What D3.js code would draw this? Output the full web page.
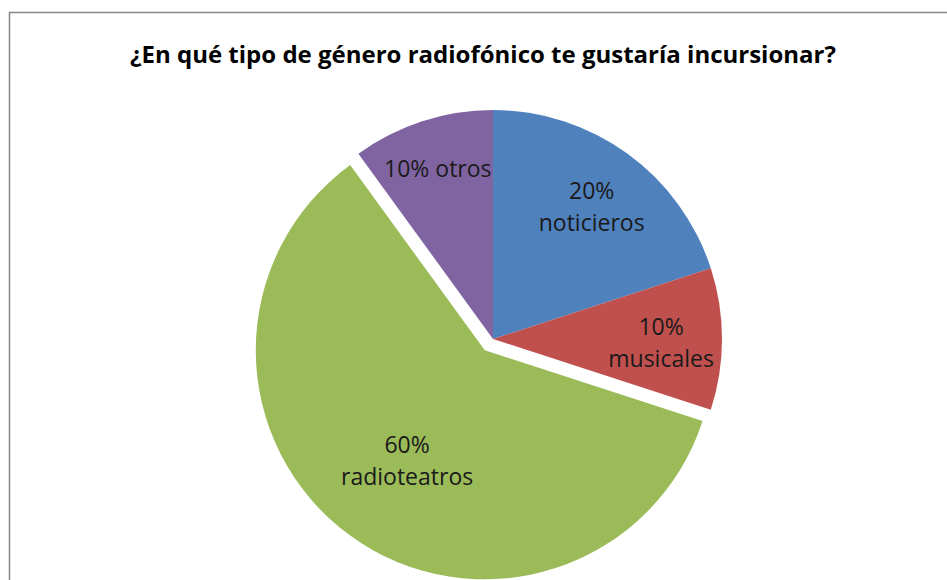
<!DOCTYPE html>
<html>
<head>
<meta charset="utf-8">
<script src="https://cdn.jsdelivr.net/npm/d3@7"></script>
<style>
  body { margin: 0; background: #fff; }
  svg { display: block; }
</style>
</head>
<body>
<script>
// data
var categories = ["noticieros", "musicales", "radioteatros", "otros"]
var values = [20, 10, 60, 10]
var percentLabels = ["20%", "10%", "60%", "10%"]
var colors = ["#4F81BD", "#C0504D", "#9BBB59", "#8064A2"]

var svgWidth = 947
var svgHeight = 580
var cx = 493
var cy = 339
var radius = 229
var explode = 14          // only the big slice is pulled out
var labelFont = "'Open Sans', 'DejaVu Sans', sans-serif"

var svg = d3.select("body").append("svg")
    .attr("width", svgWidth)
    .attr("height", svgHeight)

// chart area frame (right and bottom run off the picture)
svg.append("rect")
    .attr("x", 9.5)
    .attr("y", 12.5)
    .attr("width", 960)
    .attr("height", 600)
    .attr("fill", "white")
    .attr("stroke", "#868686")
    .attr("stroke-width", 1.5)

svg.append("text")
    .attr("x", 483)
    .attr("y", 63)
    .attr("text-anchor", "middle")
    .style("font-family", labelFont)
    .style("font-weight", "bold")
    .style("font-size", "24px")
    .style("fill", "#000")
    .text("¿En qué tipo de género radiofónico te gustaría incursionar?")

var pie = d3.pie().sort(null).value(function(d) { return d })
var arcs = pie(values)
var arc = d3.arc().innerRadius(0).outerRadius(radius)

var pieGroup = svg.append("g")
    .attr("transform", "translate(" + cx + "," + cy + ")")

function offset(d, i) {
    if (categories[i] != "radioteatros") return [0, 0]
    var a = (d.startAngle + d.endAngle) / 2
    return [Math.sin(a) * explode, -Math.cos(a) * explode]
}

pieGroup.selectAll("path.slice")
    .data(arcs)
    .enter().append("path")
    .attr("class", "slice")
    .attr("d", arc)
    .attr("transform", function(d, i) {
        var o = offset(d, i)
        return "translate(" + o[0] + "," + o[1] + ")"
    })
    .style("fill", function(d, i) { return colors[i] })

// label distance from centre, as a share of the radius (Excel puts them a bit unevenly)
var labelShare = [0.733, 0.734, 0.577, 0.78]

var labels = pieGroup.selectAll("text.lbl")
    .data(arcs)
    .enter().append("text")
    .attr("class", "lbl")
    .attr("text-anchor", "middle")
    .style("font-family", labelFont)
    .style("font-size", "23px")
    .style("fill", "#1a1a1a")
    .attr("transform", function(d, i) {
        var o = offset(d, i)
        var a = (d.startAngle + d.endAngle) / 2
        var r = radius * labelShare[i]
        return "translate(" + (o[0] + Math.sin(a) * r) + "," + (o[1] - Math.cos(a) * r) + ")"
    })

labels.each(function(d, i) {
    var t = d3.select(this)
    if (categories[i] == "otros") {
        t.append("tspan").attr("x", 0).attr("y", 8).text(percentLabels[i] + " " + categories[i])
    } else {
        t.append("tspan").attr("x", 0).attr("y", -4).text(percentLabels[i])
        t.append("tspan").attr("x", 0).attr("y", 28).text(categories[i])
    }
})
</script>
</body>
</html>
